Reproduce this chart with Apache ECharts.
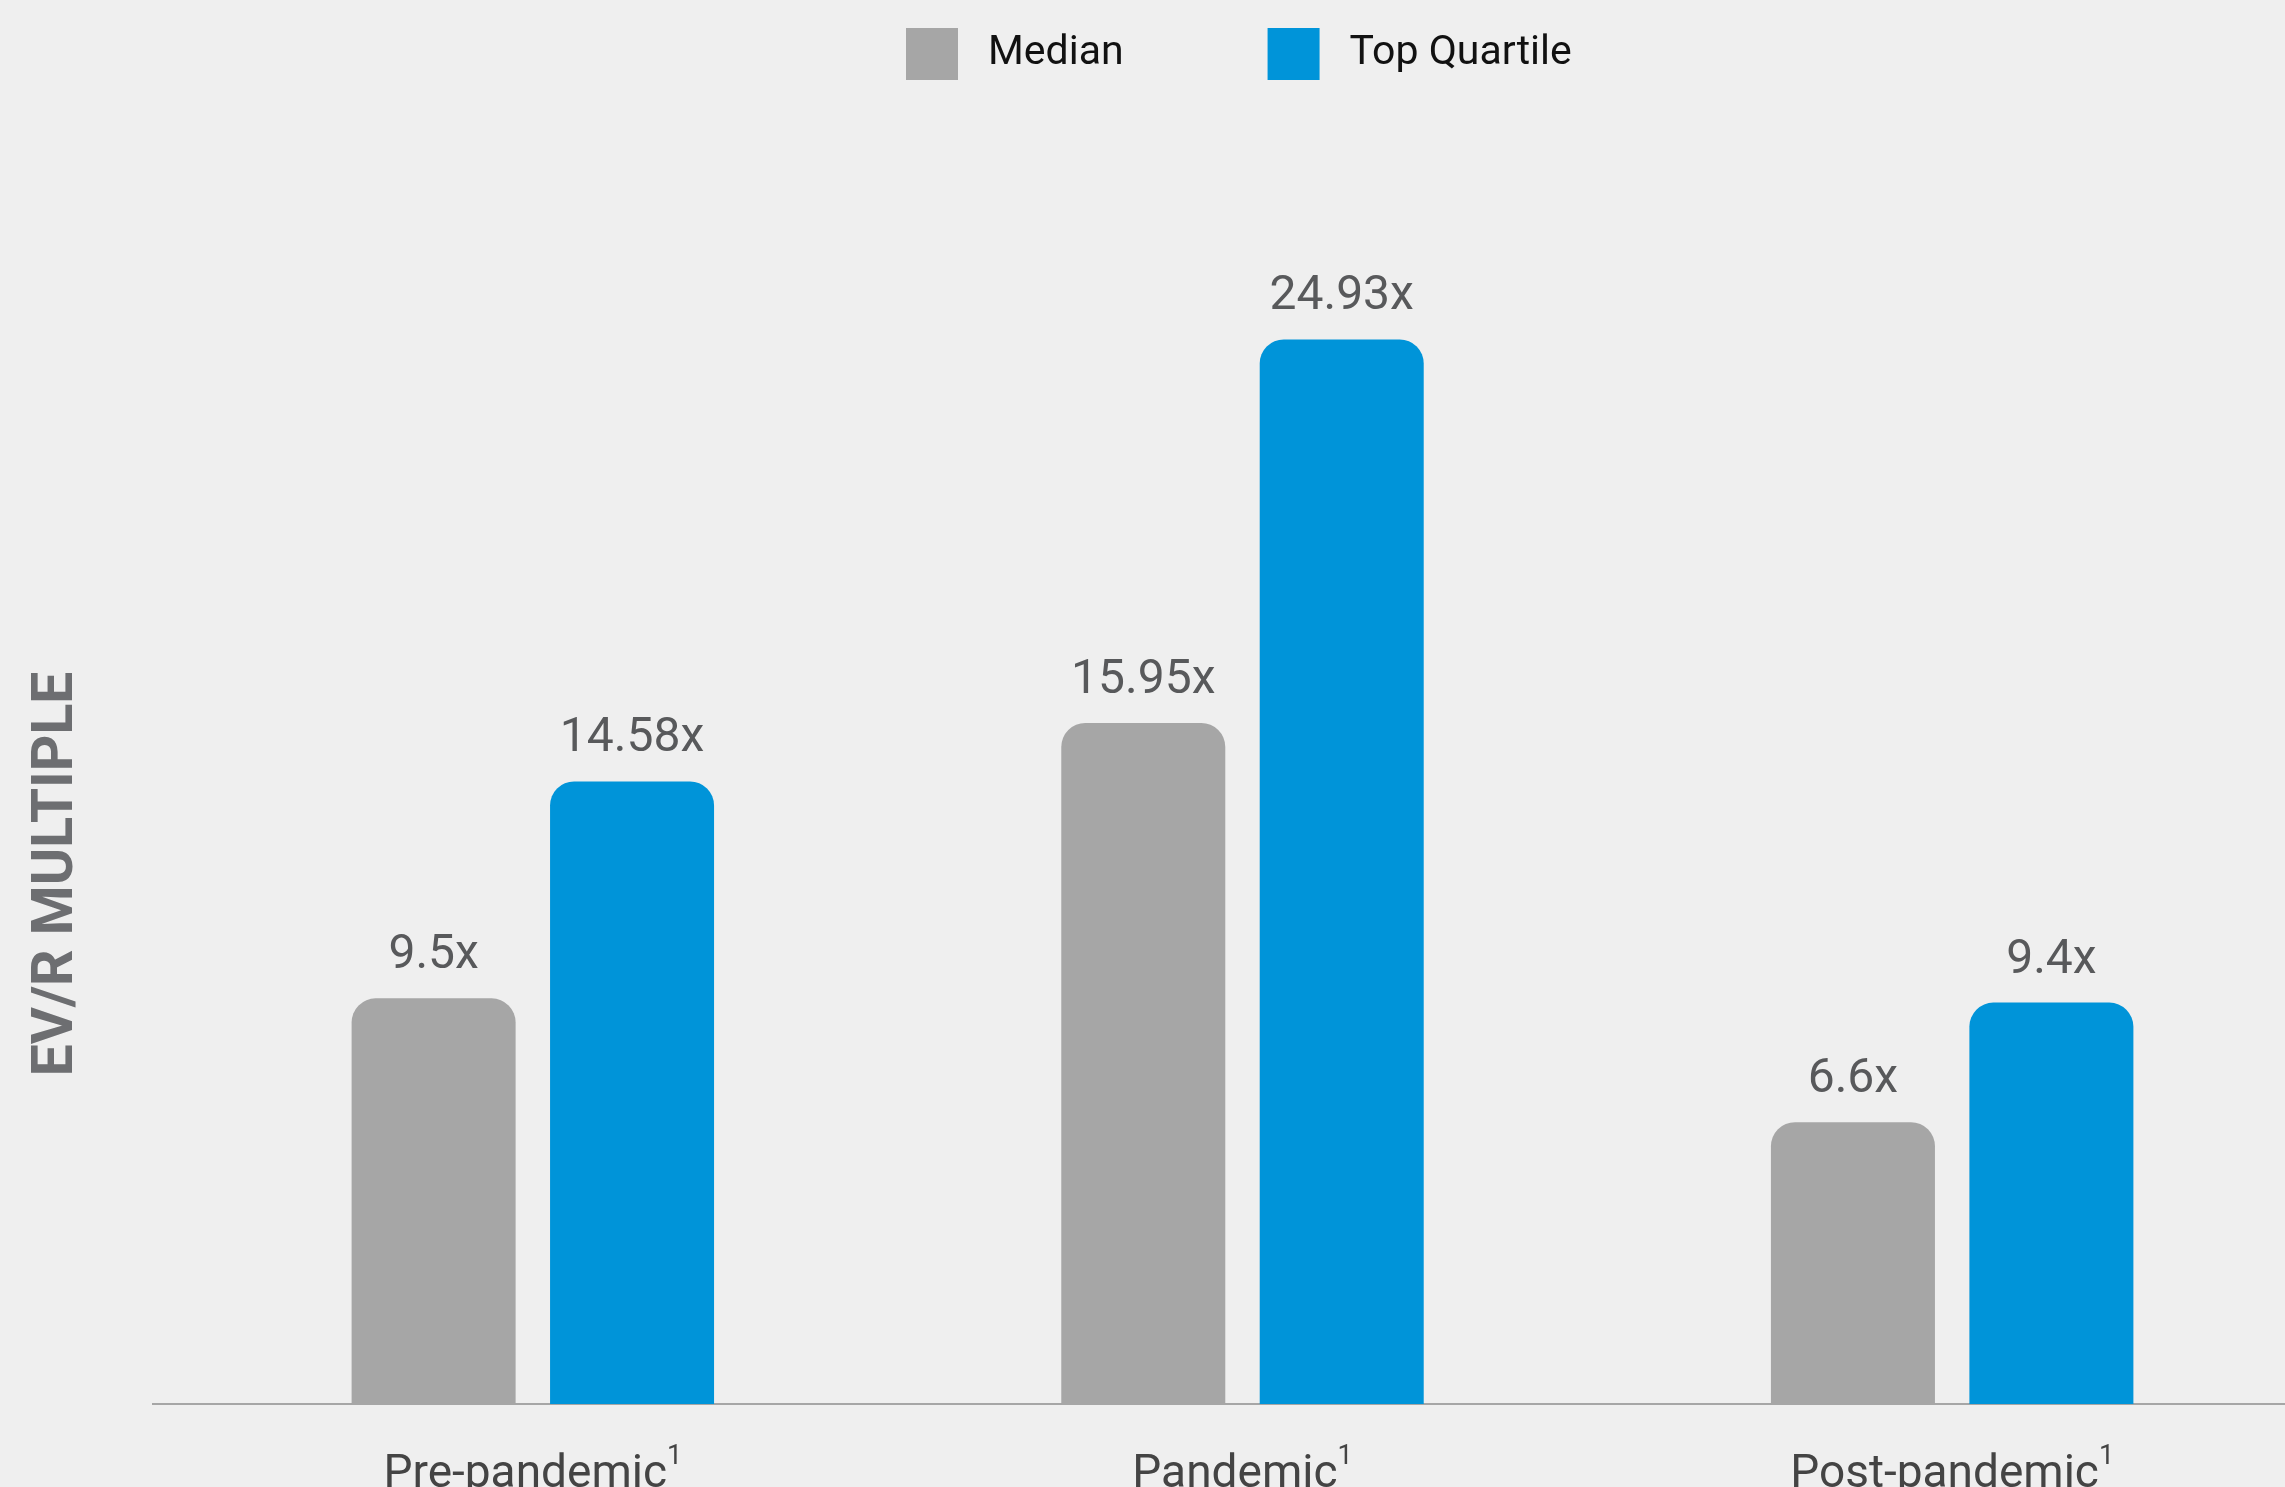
<!DOCTYPE html>
<html>
<head>
<meta charset="utf-8">
<title>EV/R Multiple</title>
<script src="https://cdn.jsdelivr.net/npm/echarts@6/dist/echarts.min.js"></script>
<style>
  html, body { margin: 0; padding: 0; background: #efefef; }
  #chart { width: 2285px; height: 1487px; }
</style>
</head>
<body>
<div id="chart"></div>
<script>
// Periods shown along the x axis
const periods = ['Pre-pandemic', 'Pandemic', 'Post-pandemic'];
// EV/R multiples per period
const medianValues = [9.5, 15.95, 6.6];
const topQuartileValues = [14.58, 24.93, 9.4];
const seriesNames = ['Median', 'Top Quartile'];

const FONT = 'Roboto, "Noto Sans", sans-serif';
const GRAY = '#a6a6a6';
const BLUE = '#0094d9';

const chart = echarts.init(document.getElementById('chart'));

const valueLabel = {
  show: true,
  position: 'top',
  distance: 18,
  fontFamily: FONT,
  fontSize: 48,
  color: '#58595b',
  formatter: p => p.value + 'x'
};

chart.setOption({
  backgroundColor: '#efefef',
  animation: false,
  legend: {
    data: seriesNames,
    left: 901,
    top: 23,
    icon: 'rect',
    itemWidth: 52,
    itemHeight: 52,
    itemGap: 144,
    textStyle: {
      fontFamily: FONT,
      fontSize: 41,
      color: '#111111',
      padding: [0, 0, 0, 25]
    }
  },
  grid: {
    // the last category band runs past the right edge of the canvas,
    // and the axis labels are allowed to run off the bottom
    left: 178,
    width: 2129,
    top: 123,
    bottom: 83,
    containLabel: false,
    outerBoundsMode: 'none'
  },
  xAxis: {
    type: 'category',
    data: periods,
    axisLine: { lineStyle: { color: '#a6a6a6', width: 2 } },
    axisTick: { show: false },
    axisLabel: {
      margin: 40,
      formatter: v => '{a|' + v + '}{s|1}',
      rich: {
        a: { fontFamily: FONT, fontSize: 46, color: '#444444', lineHeight: 62 },
        s: { fontFamily: FONT, fontSize: 27, color: '#444444', verticalAlign: 'top', lineHeight: 30 }
      }
    }
  },
  yAxis: {
    type: 'value',
    min: 0,
    max: 30,
    show: false
  },
  series: [
    {
      name: seriesNames[0],
      type: 'bar',
      data: medianValues,
      barWidth: 164,
      barGap: '21%',
      itemStyle: { color: GRAY, borderRadius: [24, 24, 0, 0] },
      label: valueLabel
    },
    {
      name: seriesNames[1],
      type: 'bar',
      data: topQuartileValues,
      barWidth: 164,
      barGap: '21%',
      itemStyle: { color: BLUE, borderRadius: [24, 24, 0, 0] },
      label: valueLabel
    }
  ],
  graphic: [
    {
      // short lead-in of the baseline to the left of the first category band
      type: 'line',
      shape: { x1: 152, y1: 1404, x2: 180, y2: 1404 },
      style: { stroke: '#a6a6a6', lineWidth: 2 },
      silent: true
    },
    {
      type: 'text',
      x: 58,
      y: 874,
      rotation: Math.PI / 2,
      style: {
        text: 'EV/R MULTIPLE',
        fontFamily: FONT,
        fontWeight: 'bold',
        fontSize: 57,
        fill: '#6d6e71',
        textAlign: 'center',
        textVerticalAlign: 'middle'
      }
    }
  ]
});
</script>
</body>
</html>
